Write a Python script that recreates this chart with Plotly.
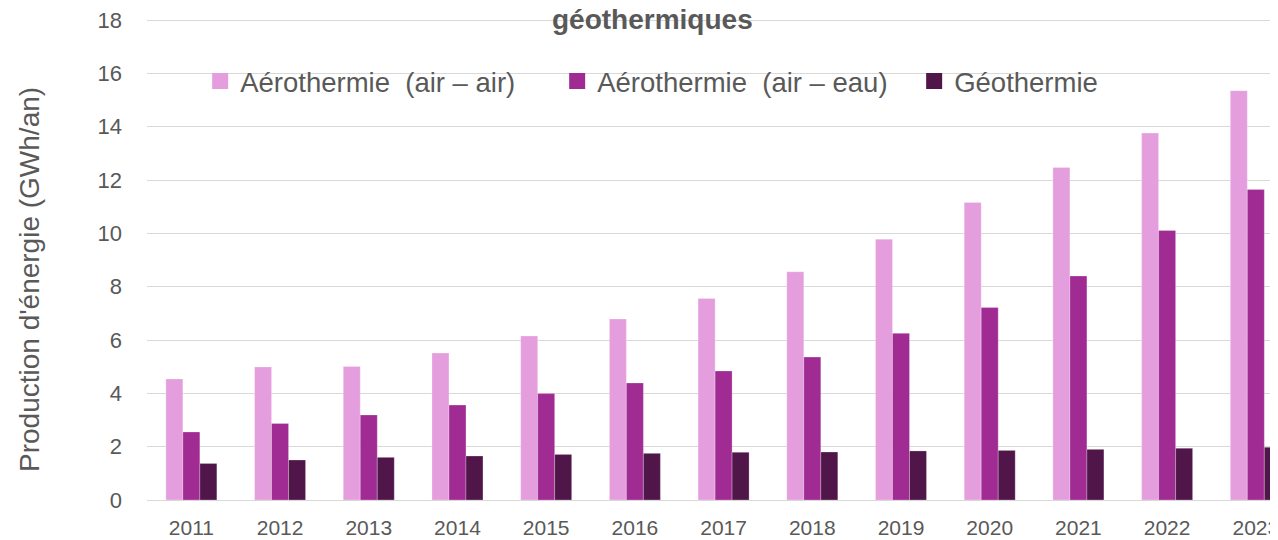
import plotly.graph_objects as go

years = ["2011", "2012", "2013", "2014", "2015", "2016", "2017",
         "2018", "2019", "2020", "2021", "2022", "2023"]
air_air = [4.54, 4.99, 5.01, 5.51, 6.15, 6.79, 7.56, 8.56, 9.78, 11.16, 12.47, 13.76, 15.35]
air_eau = [2.55, 2.87, 3.19, 3.56, 3.99, 4.39, 4.84, 5.36, 6.25, 7.22, 8.40, 10.11, 11.65]
geo = [1.37, 1.50, 1.60, 1.65, 1.71, 1.75, 1.79, 1.80, 1.84, 1.86, 1.90, 1.94, 1.98]

names = ["Aérothermie  (air – air)", "Aérothermie  (air – eau)", "Géothermie"]
colors = ["#E59EDD", "#A02B93", "#501549"]
title_text = "<b>géothermiques</b>"
y_title = "Production d'énergie (GWh/an)"

FONT = "Liberation Sans, Arial, sans-serif"
GRAY = "#595959"

# page offset of the figure div (body margin)
OFF = 8
Y_TOP = 18.04
ML, MT = 147 - OFF, 19 - OFF
W, H = 1278, 540
PLOT_RIGHT = 1278 - OFF
PLOT_BOTTOM = 500 - OFF
plot_w = PLOT_RIGHT - ML
plot_h = PLOT_BOTTOM - MT


def px_x(page_x):
    return (page_x - OFF - ML) / plot_w


def px_y(page_y):
    return (PLOT_BOTTOM - (page_y - OFF)) / plot_h


fig = go.Figure()
for name, vals, col in zip(names, [air_air, air_eau, geo], colors):
    fig.add_trace(go.Bar(
        x=years, y=vals, name=name, showlegend=False, legendgroup=name,
        marker=dict(color=col, line=dict(color="rgba(255,255,255,0.5)", width=0.5)),
    ))
# legend entries (square swatches like the reference)
for name, col in zip(names, colors):
    fig.add_trace(go.Scatter(
        x=[None], y=[None], mode="markers", name=name, legendgroup=name,
        marker=dict(symbol="square", size=16, color=col),
    ))

fig.update_layout(
    width=W, height=H,
    margin=dict(l=ML, r=W - PLOT_RIGHT, t=MT, b=H - PLOT_BOTTOM, autoexpand=False),
    paper_bgcolor="white", plot_bgcolor="white",
    barmode="group", bargap=0.425, bargroupgap=0,
    font=dict(family=FONT, color=GRAY),
    legend=dict(
        orientation="h", x=0.047, xanchor="left", y=px_y(81),
        yanchor="middle", itemsizing="trace",
        font=dict(size=27.5, color=GRAY, family=FONT),
        entrywidth=312, entrywidthmode="pixels",
        bgcolor="rgba(0,0,0,0)", traceorder="normal",
    ),
    xaxis=dict(
        type="category", range=[-0.5, 12.25],
        showgrid=False, showline=False, zeroline=False,
        tickfont=dict(size=21, color=GRAY, family=FONT),
        ticks="", ticklabelstandoff=13,
    ),
    yaxis=dict(
        range=[0, Y_TOP], dtick=2, tick0=0,
        showgrid=True, gridcolor="#D9D9D9", gridwidth=1.3,
        zeroline=True, zerolinecolor="#D9D9D9", zerolinewidth=1.3,
        showline=False, ticks="",
        tickfont=dict(size=22, color=GRAY, family=FONT),
        ticklabelstandoff=24, ticklabeloverflow="allow",
        automargin=False,
    ),
    annotations=[
        dict(
            text=title_text, x=px_x(652), xref="paper", y=px_y(19.5), yref="paper",
            xanchor="center", yanchor="middle",
            showarrow=False, font=dict(size=28, color=GRAY, family=FONT),
        ),
        dict(
            text=y_title, x=px_x(29), xref="paper", y=px_y(280), yref="paper",
            xanchor="center", yanchor="middle", textangle=-90,
            showarrow=False, font=dict(size=28, color=GRAY, family=FONT),
        ),
    ],
)

fig.write_html("out.html")
